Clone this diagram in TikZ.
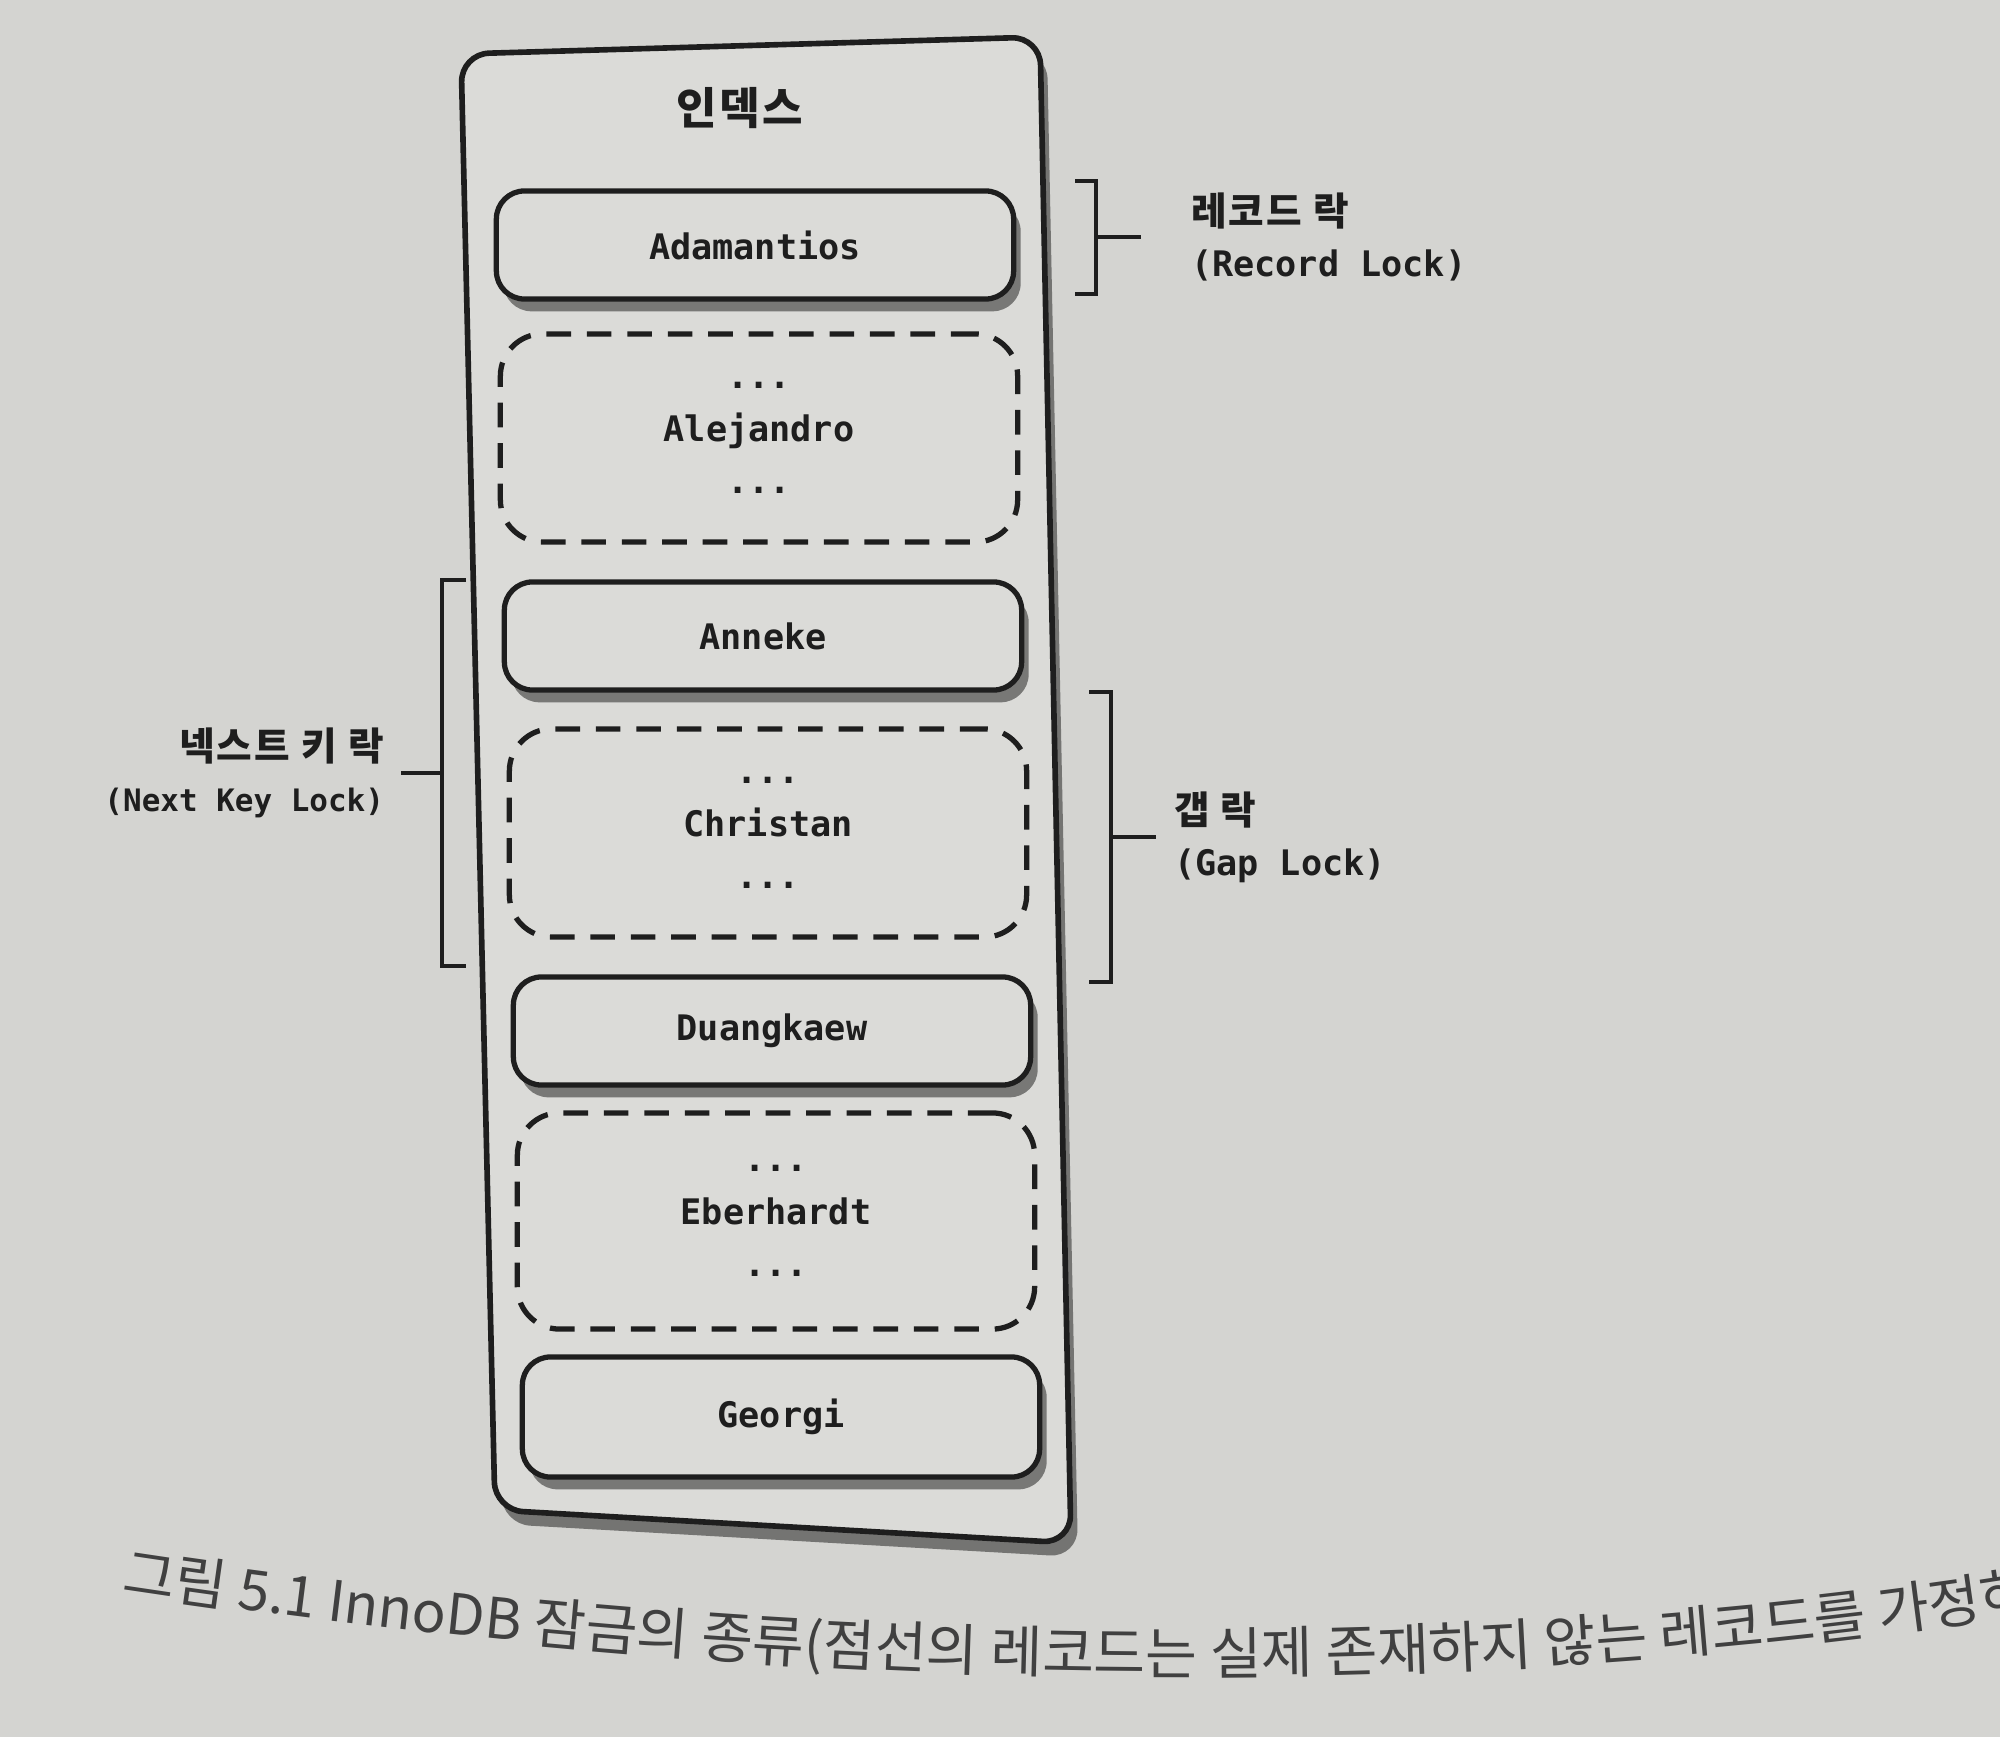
\documentclass[tikz,border=0pt]{standalone}
\usepackage{fontspec}
\setmonofont{DejaVu Sans Mono}
\newfontfamily\krfont[LetterSpace=6]{Noto Sans CJK KR}
\newfontfamily\capfont{Noto Sans CJK KR}
\usepackage{tikz}
\usetikzlibrary{positioning, calc, shadows, decorations.text}

\definecolor{paper}{RGB}{212,212,209}
\definecolor{boxfill}{RGB}{219,219,216}
\definecolor{ink}{RGB}{30,30,30}

\newcommand{\krtext}[1]{{\krfont\fontsize{11}{14.5}\selectfont #1}}

\tikzset{
  record/.style={draw=ink, line width=1.5pt, rounded corners=8pt, fill=boxfill, minimum width=5.17cm, minimum height=1.08cm, font=\ttfamily\bfseries\fontsize{10}{15}\selectfont, text=ink, drop shadow={shadow xshift=2pt, shadow yshift=-3.5pt, opacity=0.45, fill=black}},
  gaprec/.style={draw=ink, line width=1.5pt, dash pattern=on 7pt off 4.5pt, rounded corners=12pt, minimum width=5.17cm, minimum height=2.08cm, align=center, font=\ttfamily\bfseries\fontsize{10}{15}\selectfont, text=ink},
  bracket/.style={draw=ink, line width=1.4pt},
  locklabel/.style={text=ink, inner sep=0pt, font=\ttfamily\bfseries\fontsize{10}{14.5}\selectfont}
}

\begin{document}
\begin{tikzpicture}[x=0.01cm, y=0.01cm]
			\useasboundingbox (0,0) rectangle (2000,-1737);
			\fill[paper] (0,0) rectangle (2000,-1737);
			
			% index box
			\path[draw=ink, line width=1.6pt, fill=boxfill, rounded corners=8pt, drop shadow={shadow xshift=2pt, shadow yshift=-4pt, opacity=0.45, fill=black}] (461,-54) -- (1040,-37) -- (1071,-1543) -- (495,-1510) -- cycle;
			\node[font=\krfont\bfseries\fontsize{12.5}{15}\selectfont, text=ink] (title) at (740,-108) {인덱스};
			
			\node[record] (adam) at (755,-245) {Adamantios};
			\node[gaprec] (alej) at (759,-438) {...\\Alejandro\\...};
			\node[record] (anne) at (763,-636) {Anneke};
			\node[gaprec] (chri) at (768,-833) {...\\Christan\\...};
			\node[record] (duan) at (772,-1031) {Duangkaew};
			\node[gaprec, minimum height=2.16cm] (eber) at (776,-1221) {...\\Eberhardt\\...};
			\node[record, minimum height=1.2cm] (geor) at (781,-1417) {Georgi};
			
			% record lock
			\draw[bracket] (1075,-181) -- (1096,-181) -- (1096,-294) -- (1075,-294);
			\coordinate (recm) at (1096,-237);
			\node[locklabel, align=left, outer sep=0.5cm, right=0.45cm of recm] (reclk) {\krtext{레코드 락}\\(Record Lock)};
			\draw[bracket] (recm) -- (reclk);
			
			% next key lock
			\draw[bracket] (466,-580) -- (442,-580) -- (442,-966) -- (466,-966);
			\coordinate (nkm) at (442,-773);
			\node[locklabel, align=right, outer sep=0.17cm, left=0.41cm of nkm] (nklk) {\krtext{넥스트 키 락}\\{\fontsize{8.8}{14.5}\selectfont (Next Key Lock)}};
			\draw[bracket] (nkm) -- (nklk);
			
			% gap lock
			\draw[bracket] (1089,-692) -- (1111,-692) -- (1111,-982) -- (1089,-982);
			\coordinate (gapm) at (1111,-837);
			\node[locklabel, align=left, outer sep=0.18cm, right=0.45cm of gapm] (gaplk) {\krtext{갭 락}\\(Gap Lock)};
			\draw[bracket] (gapm) -- (gaplk);
			
			% caption
			\path[decorate, decoration={text along path, text={|\capfont\fontsize{16}{18}\selectfont\color{ink!85}|그림 5.1 InnoDB 잠금의 종류(점선의 레코드는 실제 존재하지 않는 레코드를 가정하}}] (121,-1592) .. controls (800,-1695) and (1500,-1705) .. (2100,-1600);
\end{tikzpicture}
\end{document}
